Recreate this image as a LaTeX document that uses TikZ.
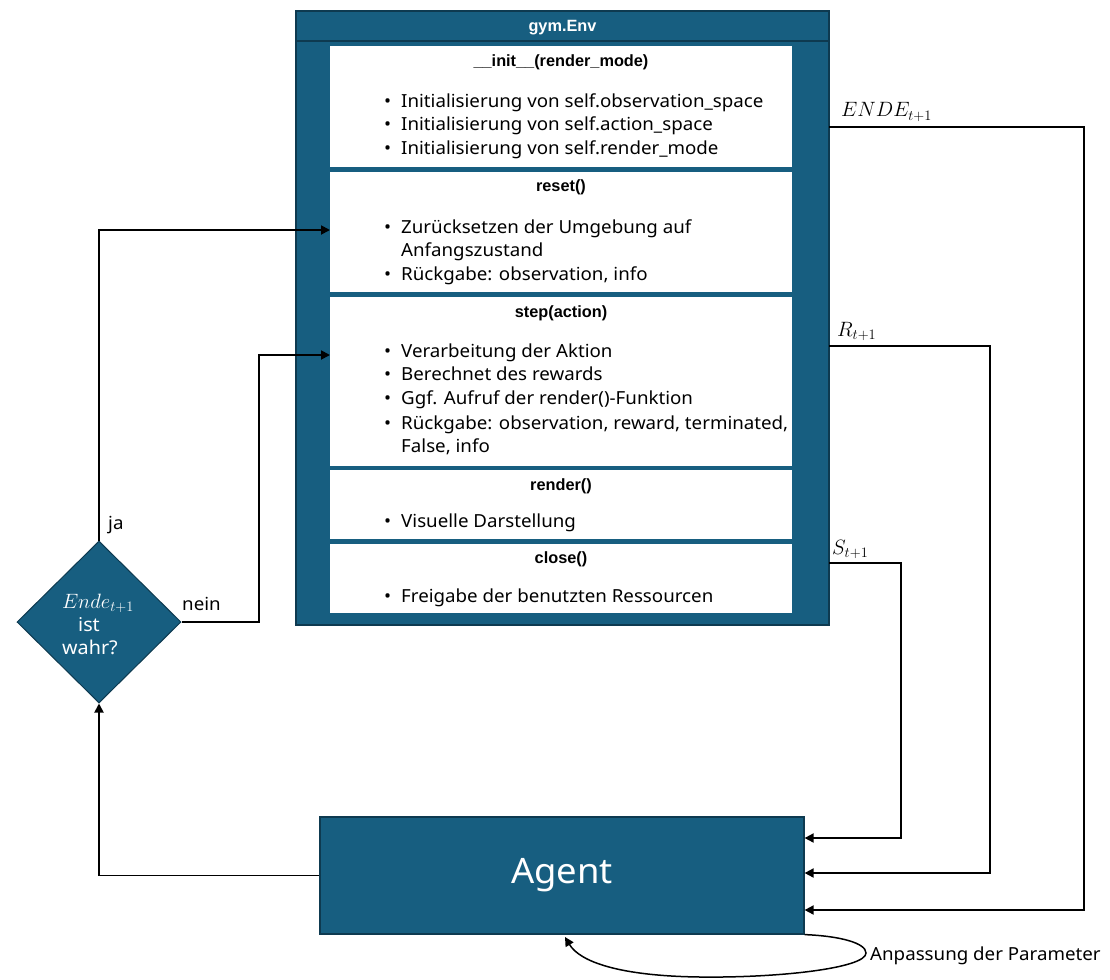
\documentclass[tikz,border=0pt]{standalone}
\usepackage{fontspec}
\setmainfont{Noto Sans}
\newfontfamily\bodyfont{Noto Sans}[FakeStretch=1.04]
\newfontfamily\boldsans{Liberation Sans}
\usetikzlibrary{shapes.geometric,arrows.meta}
\definecolor{envblue}{RGB}{23,94,128}
\definecolor{envdark}{RGB}{14,58,80}
\begin{document}
\begin{tikzpicture}[x=1pt,y=-1pt,
  conn/.style={line width=1.8pt,black},
  arr/.style={conn,-{Triangle[length=9pt,width=9pt]}},
  body/.style={font=\bodyfont\fontsize{18}{20}\selectfont,anchor=base west,inner sep=0pt},
  bul/.style={font=\bodyfont\fontsize{18}{20}\selectfont,anchor=base west,inner sep=0pt},
  ttl/.style={font=\boldsans\bfseries\fontsize{16.3}{18}\selectfont,anchor=base,inner sep=0pt},
  wbox/.style={fill=white,draw=none,inner sep=0pt,minimum width=462pt},
  mlbl/.style={font=\fontsize{20}{22}\selectfont,anchor=base west,inner sep=0pt},
  lbl/.style={font=\bodyfont\fontsize{18}{20}\selectfont,anchor=base west,inner sep=0pt},
  wtxt/.style={text=white,font=\bodyfont\fontsize{19}{20}\selectfont,inner sep=0pt,anchor=base}]

\useasboundingbox (0,0) rectangle (1110,979);

% gym.Env container
\node[draw=envdark,fill=envblue,line width=1.2pt,minimum width=533pt,minimum height=614pt,inner sep=0pt] (env) at (562.5,318) {};
\draw[envdark,line width=1.8pt] (env.west |- 0,41) -- (env.east |- 0,41);
\node[ttl,text=white] (envtitle) at (562.5,32) {gym.Env};

% method boxes
\node[wbox,minimum height=121pt] (init) at (561,106.5) {};
\node[wbox,minimum height=120pt] (reset) at (561,232) {};
\node[wbox,minimum height=169pt] (step) at (561,381.5) {};
\node[wbox,minimum height=69pt] (render) at (561,504.5) {};
\node[wbox,minimum height=69pt] (close) at (561,578.5) {};

% init
\node[ttl] (t1) at (561,67) {\_\_init\_\_(render\_mode)};
\node[bul] (b11) at (384,107) {•};
\node[body] (i11) at (401,107) {Initialisierung von self.observation\_space};
\node[bul] (b12) at (384,131) {•};
\node[body] (i12) at (401,131) {Initialisierung von self.action\_space};
\node[bul] (b13) at (384,154) {•};
\node[body] (i13) at (401,154) {Initialisierung von self.render\_mode};

% reset
\node[ttl] (t2) at (561,191) {reset()};
\node[bul] (b21) at (384,233) {•};
\node[body] (i21) at (401,233) {Zurücksetzen der Umgebung auf};
\node[body] (i22) at (401,256) {Anfangszustand};
\node[bul] (b23) at (384,280) {•};
\node[body] (i23) at (401,280) {Rückgabe: observation, info};

% step
\node[ttl] (t3) at (561,317) {step(action)};
\node[bul] (b31) at (384,357) {•};
\node[body] (i31) at (401,357) {Verarbeitung der Aktion};
\node[bul] (b32) at (384,380) {•};
\node[body] (i32) at (401,380) {Berechnet des rewards};
\node[bul] (b33) at (384,404) {•};
\node[body] (i33) at (401,404) {Ggf. Aufruf der render()-Funktion};
\node[bul] (b34) at (384,429) {•};
\node[body] (i34) at (401,429) {Rückgabe: observation, reward, terminated,};
\node[body] (i35) at (401,452) {False, info};

% render
\node[ttl] (t4) at (561,490) {render()};
\node[bul] (b41) at (384,527) {•};
\node[body] (i41) at (401,527) {Visuelle Darstellung};

% close
\node[ttl] (t5) at (561,563) {close()};
\node[bul] (b51) at (384,602) {•};
\node[body] (i51) at (401,602) {Freigabe der benutzten Ressourcen};

% Agent
\node[draw=envdark,fill=envblue,line width=1.2pt,minimum width=484pt,minimum height=117pt,inner sep=0pt,text=white,font=\bodyfont\fontsize{35}{40}\selectfont] (agent) at (562,875.5) {\raisebox{-4pt}{Agent}};

% decision diamond
\node[diamond,draw=envdark,fill=envblue,line width=1pt,minimum width=164pt,minimum height=162pt,inner sep=0pt,aspect=1] (dec) at (99,622) {};
\node[wtxt,font=\fontsize{20}{20}\selectfont] (d1) at (98,608) {$Ende_{t+1}$};
\node[wtxt] (d2) at (89,631) {ist};
\node[wtxt] (d3) at (90,654) {wahr?};

% coordinates
\coordinate (resetIn) at (330,230);
\coordinate (stepIn) at (330,355);
\coordinate (neinX) at (259,355);
\coordinate (endeOut) at (829,127);
\coordinate (endeX) at (1084,910);
\coordinate (rOut) at (829,346);
\coordinate (rX) at (990,873);
\coordinate (sOut) at (829,563);
\coordinate (sX) at (901,838);
\coordinate (loopEnd) at (565,937);

% connectors
\draw[arr] (dec.north) |- (resetIn);
\draw[arr] (dec.east) -| (neinX) -- (stepIn);
\draw[arr] (agent.west) -| (dec.south);
\draw[arr] (endeOut) -| (endeX) -- (agent.east |- endeX);
\draw[arr] (rOut) -| (rX) -- (agent.east |- rX);
\draw[arr] (sOut) -| (sX) -- (agent.east |- sX);
\draw[conn,line width=1.5pt,-{Triangle[length=9pt,width=9pt]}] (agent.south east) .. controls (840,936) and (866,943) .. (866,953) .. controls (866,968) and (780,978) .. (700,977) .. controls (620,976) and (580,962) .. (loopEnd);

% labels
\node[lbl] (lja) at (108,529) {ja};
\node[lbl] (lnein) at (182,610) {nein};
\node[mlbl] (lende) at (841,117) {$ENDE_{t+1}$};
\node[mlbl] (lr) at (837,336) {$R_{t+1}$};
\node[mlbl] (ls) at (832,554) {$S_{t+1}$};
\node[lbl] (lanp) at (870,960) {Anpassung der Parameter};
\end{tikzpicture}
\end{document}
